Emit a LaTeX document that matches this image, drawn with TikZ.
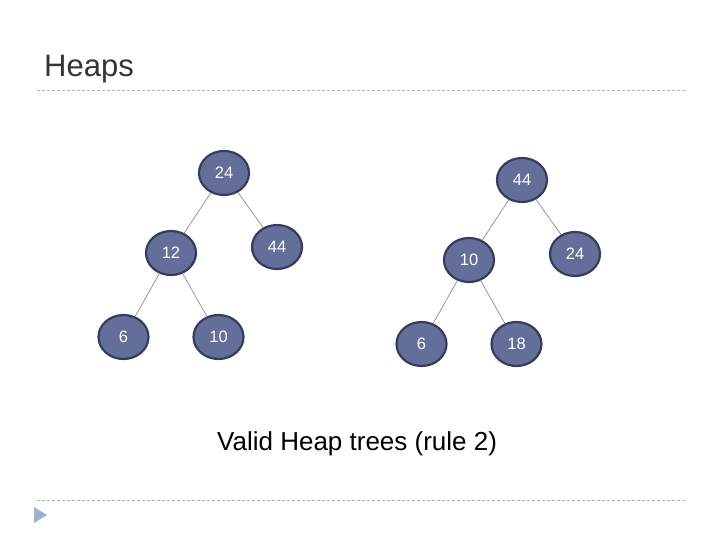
\documentclass[tikz,border=0pt]{standalone}
\usepackage{fontspec}
\setmainfont{Liberation Sans}
\usetikzlibrary{shapes.geometric, trees}

\definecolor{heapfill}{RGB}{99,110,153}
\definecolor{heapline}{RGB}{55,60,95}
\definecolor{rulegray}{RGB}{175,175,180}
\definecolor{titlegray}{RGB}{52,52,62}
\definecolor{bulletblue}{RGB}{160,178,208}

\tikzset{
  heapnode/.style={ellipse, draw=heapline, fill=heapfill, line width=2.2pt,
    minimum width=50pt, minimum height=44pt, inner sep=0pt,
    text=white, font=\fontsize{16.5}{18}\selectfont},
  heapedge/.style={draw=gray, line width=0.6pt},
  slideline/.style={rulegray, line width=0.8pt, dash pattern=on 3pt off 2pt}
}

\begin{document}
\begin{tikzpicture}[x=1pt, y=-1pt,
    level 1/.style={level distance=80pt, sibling distance=106pt},
    level 2/.style={level distance=84pt, sibling distance=95pt, xshift=3pt},
    edge from parent/.style={heapedge}]
    \useasboundingbox[fill=white] (0,0) rectangle (720,540);

    % title and rules
    \node[anchor=base west, inner sep=0pt, text=titlegray,
      font=\fontsize{31}{33}\selectfont] (title) at (44,77) {Heaps};
    \draw[slideline] (37,90) -- (685,90);
    \draw[slideline] (37,500) -- (685,500);
    \fill[bulletblue] (34,507) -- (34,523) -- (47,515) -- cycle;

    % first tree
    \path[every node/.style={heapnode}]
    node (a24) at (224,173) {24}
    child { node (a12) {12}
      child { node (a6) {6} }
      child { node (a10) {10} }
    }
    child[yshift=6pt] { node (a44) {44} };

    % second tree
    \path[every node/.style={heapnode}]
    node (b44) at (522,180) {44}
    child { node (b10) {10}
      child { node (b6) {6} }
      child { node (b18) {18} }
    }
    child[yshift=6pt] { node (b24) {24} };

    \node[anchor=base west, inner sep=0pt,
      font=\fontsize{26}{28}\selectfont] (caption) at (217,450) {Valid Heap trees (rule 2)};
\end{tikzpicture}
\end{document}
